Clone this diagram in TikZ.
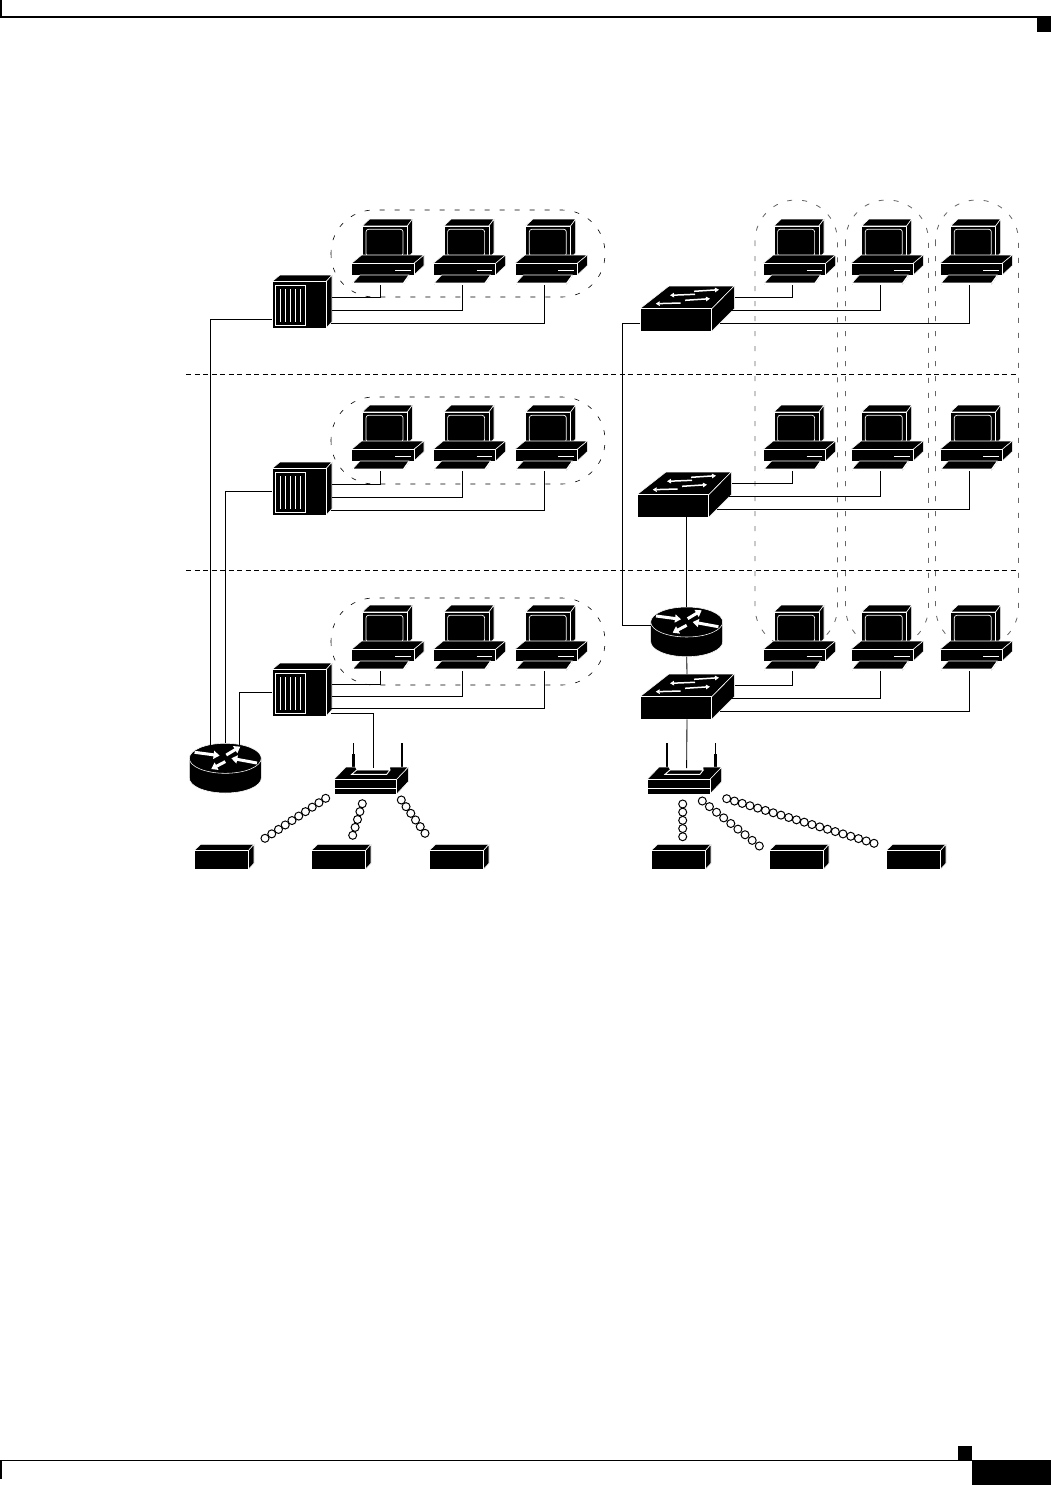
\documentclass[tikz,border=0pt]{standalone}
\usetikzlibrary{arrows.meta}
\tikzset{
  x=1pt,y=-1pt,
  blk/.style={fill=black,draw=white,line width=0.55pt,line join=round},
  wire/.style={draw=black,line width=0.85pt},
  grp/.style={draw=black,line width=0.6pt,dash pattern=on 5pt off 10pt},
  grpv/.style={draw=black!60,line width=0.8pt,dash pattern=on 5pt off 10pt},
  sep/.style={draw=black,line width=0.7pt,dash pattern=on 5pt off 3.5pt},
  wh/.style={draw=white,line width=0.7pt},
  wharrow/.style={draw=white,line width=1.5pt,-{Triangle[width=4.5pt,length=4pt]}},
  rtarrow/.style={draw=white,line width=3pt,-{Triangle[width=8pt,length=6pt]}},
  ws/.pic={
    \path[blk] (10.6,7)--(18,0)--(60.7,0)--(55.6,7)--cycle;
    \path[blk] (55.6,7)--(60.7,0)--(60.7,33.7)--(55.6,40)--cycle;
    \path[blk] (10.6,7) rectangle (55.6,40);
    \draw[wh,rounded corners=2.5pt] (14.3,10.3) rectangle (51.3,37);
    \path[blk] (0,44.3)--(10,36)--(72.3,36)--(62.3,44.3)--cycle;
    \path[blk] (62.3,44.3)--(72.3,36)--(72.3,46.6)--(62.3,56)--cycle;
    \path[blk] (0,44.3) rectangle (62.3,56);
    \draw[wh] (43.3,51.3)--(59,51.3);
    \path[blk] (1,64)--(8.3,56)--(57.3,56)--(51.6,64)--cycle;
    \path[blk] (51.6,64)--(57.3,56)--(57.3,57)--(51.6,65.5)--cycle;
    \path[blk] (1,64) rectangle (51.6,65.5);
    \coordinate (-port) at (29,66);
  },
  hubbox/.pic={
    \path[blk] (0,6.7)--(8,0)--(60,0)--(54,6.7)--cycle;
    \path[blk] (54,6.7)--(60,0)--(60,46.7)--(54,53.3)--cycle;
    \path[blk] (0,6.7) rectangle (54,53.3);
    \draw[wh] (3.7,10.7) rectangle (33.7,50);
    \foreach \vx in {8.7,13.7,18.7,23.7,28.7} \draw[wh] (\vx,14)--(\vx,47);
    \coordinate (-a) at (60,22);
    \coordinate (-b) at (60,35);
    \coordinate (-c) at (58.5,48);
    \coordinate (-wa) at (0,44);
    \coordinate (-wb) at (0,29);
    \coordinate (-d) at (59,50.3);
  },
  sw/.pic={
    \path[blk] (0,22.7)--(29,0)--(94.3,0)--(71.7,22.7)--cycle;
    \path[blk] (71.7,22.7)--(94.3,0)--(94.3,22.7)--(71.7,45.3)--cycle;
    \path[blk] (0,22.7) rectangle (71.7,45.3);
    \draw[wharrow] (55,8.3)--(30,9.3);
    \draw[wharrow] (54,5.3)--(79,3.7);
    \draw[wharrow] (40.7,17)--(15.7,17.7);
    \draw[wharrow] (45,14.3)--(70,12.7);
    \coordinate (-top) at (47,0);
    \coordinate (-bot) at (47,45.3);
    \coordinate (-left) at (0,37);
    \coordinate (-a) at (95,11);
    \coordinate (-b) at (88,24);
    \coordinate (-c) at (80,37);
  },
  rt/.pic={
    \path[fill=black,draw=white,line width=0.55pt] (-36,0) -- (-36,19.7)
      arc[start angle=180,end angle=0,x radius=36,y radius=15] -- (36,0) -- cycle;
    \path[fill=black,draw=white,line width=0.55pt] (0,0) ellipse[x radius=36,y radius=15];
    \draw[rtarrow] (-30.7,-6)--(-5.7,-2.7);
    \draw[rtarrow] (1,-3.3)--(15,-11.7);
    \draw[rtarrow] (31.7,4.7)--(6,0);
    \draw[rtarrow] (0,3.3)--(-14,10.7);
    \coordinate (-top) at (0,-15);
    \coordinate (-bot) at (0,34.7);
    \coordinate (-left) at (-36,3);
    \coordinate (-topa) at (-15,-13.6);
    \coordinate (-topb) at (0,-15);
    \coordinate (-topc) at (14,-13.8);
  },
  ap/.pic={
    \fill (19.1,0) rectangle (20.3,11);
    \fill (18.4,11) rectangle (21,24);
    \fill (67.4,0) rectangle (68.6,11);
    \fill (66.7,11) rectangle (69.3,24);
    \path[blk] (0,36.3)--(11.7,24.2)--(74.3,24.2)--(62.7,36.3)--cycle;
    \fill[white] (21,23.5)--(56,23.5)--(56,27)--(22.7,27)--cycle;
    \draw[wh,line width=0.9pt] (17.7,31.3)--(22.7,27)--(56,27)--(52.7,31.3)--cycle;
    \path[blk] (62.7,36.3)--(74.3,24.2)--(74.3,38.7)--(62.7,51)--cycle;
    \path[blk] (0,36.3) rectangle (62.7,51);
    \draw[wh] (0,45)--(62.7,45);
    \coordinate (-top) at (39.3,25);
  },
  tg/.pic={
    \path[blk] (0,6.4)--(6.7,0)--(60,0)--(54.3,6.4)--cycle;
    \path[blk] (54.3,6.4)--(60,0)--(60,19)--(54.3,25)--cycle;
    \path[blk] (0,6.4) rectangle (54.3,25);
  }
}
\newcommand{\coil}[5]{% x1 y1 x2 y2 n
  \pgfmathsetmacro{\nn}{#5-1}
  \foreach \ci in {0,...,\nn}{
    \pgfmathsetmacro{\cx}{#1+(#3-#1)*\ci/\nn}
    \pgfmathsetmacro{\cy}{#2+(#4-#2)*\ci/\nn}
    \draw[line width=1pt] (\cx,\cy) circle[radius=4pt];
  }
}
\begin{document}
\begin{tikzpicture}
\useasboundingbox (0,0) rectangle (1051,1485);
\fill[white] (0,0) rectangle (1051,1485);
% page furniture
\fill (0,16.4) rectangle (1051,17.8);
\fill (0,0) rectangle (2,17);
\fill (1037,17) rectangle (1051,32);
\fill (0,1459.6) rectangle (972,1461);
\fill (0,1460) rectangle (2,1479);
\fill (958,1446) rectangle (972,1460);
\fill (972,1460) rectangle (1051,1485);
% separators
\draw[sep] (186,374.5)--(1018,374.5);
\draw[sep] (186,570)--(1018,570);
% groups
\foreach \gy in {210,397,598}
  \draw[grp,rounded corners=43pt] (331,\gy) rectangle (605,\gy+87);
\foreach \gx/\gw in {755/82.5,845.5/83,935.5/83}
  \draw[grpv,rounded corners=41pt] (\gx,200) rectangle (\gx+\gw,648);
% workstations
\foreach \wy [count=\r] in {219,405,605}{
  \foreach \wx [count=\c] in {351.7,433.3,515,763.3,851,940}{
    \pic (w\r\c) at (\wx,\wy) {ws};
  }
}
% hubs, switches, routers, access points, tags
\pic (h1) at (272,275) {hubbox};
\pic (h2) at (272,462) {hubbox};
\pic (h3) at (272,663) {hubbox};
\pic (s1) at (640,286) {sw};
\pic (s2) at (637,472) {sw};
\pic (s3) at (640,674) {sw};
\pic (r1) at (225.3,758.3) {rt};
\pic (r2) at (686.7,622) {rt};
\pic (a1) at (334,743) {ap};
\pic (a2) at (647.3,743) {ap};
\foreach \tx/\tn in {194/t1,311/t2,429/t3,651/t4,769/t5,886/t6}
  \pic (\tn) at (\tx,844.3) {tg};
% coils
\coil{265}{838.3}{325.7}{798.3}{10}
\coil{352.7}{835.3}{362.3}{803.7}{5}
\coil{401.3}{800}{425}{833.3}{6}
\coil{682.7}{804}{682.7}{836.7}{5}
\coil{702.3}{801}{759.3}{846}{9}
\coil{726.7}{798.7}{874}{843.3}{20}
% connectors
\foreach \r in {1,2}{
  \draw[wire] (h\r-a) -| (w\r1-port);
  \draw[wire] (h\r-b) -| (w\r2-port);
  \draw[wire] (h\r-c) -| (w\r3-port);
}
\draw[wire] ([yshift=0.7pt]h3-a) -| (w31-port);
\draw[wire] ([yshift=1.7pt]h3-b) -| (w32-port);
\draw[wire] ([yshift=2.7pt]h3-c) -| (w33-port);
\foreach \r in {1,3}{
  \draw[wire] (s\r-a) -| (w\r4-port);
  \draw[wire] (s\r-b) -| (w\r5-port);
  \draw[wire] (s\r-c) -| (w\r6-port);
}
\draw[wire] (s2-a) -| (w24-port);
\draw[wire] ([xshift=4pt]s2-b) -| (w25-port);
\draw[wire] (s2-c) -| (w26-port);
\draw[wire] (h1-wa) -| (r1-topa);
\draw[wire] (h2-wb) -| (r1-topb);
\draw[wire] (h3-wb) -| (r1-topc);
\coordinate (bend) at (622,625);
\draw[wire] (s1-left) -| (bend) -- (r2-left);
\draw[wire] (r2-top |- s2-bot) -- (r2-top);
\draw[wire] (r2-bot) -- (s3-top);
\draw[wire] (s3-bot) -- (a2-top);
\draw[wire] (h3-d) -| (a1-top);
\end{tikzpicture}
\end{document}
